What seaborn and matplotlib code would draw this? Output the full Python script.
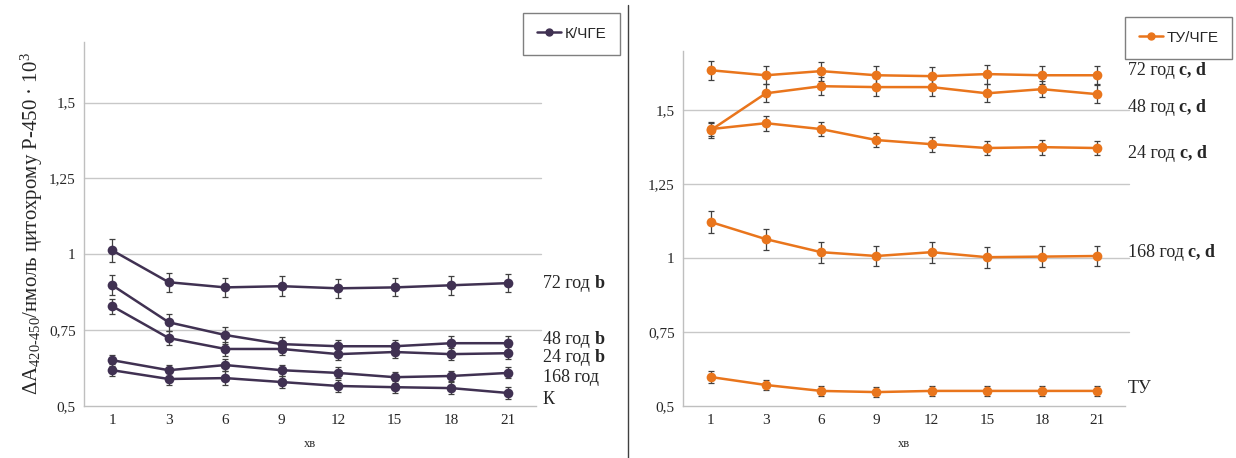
import numpy as np
import pandas as pd
import matplotlib
matplotlib.use("Agg")
import matplotlib.pyplot as plt
from matplotlib.lines import Line2D
import seaborn as sns

# minutes of incubation (categorical x axis)
minutes = ["1", "3", "6", "9", "12", "15", "18", "21"]

# left panel: К/ЧГЕ
k_72 = [1.013, 0.908, 0.891, 0.895, 0.888, 0.891, 0.898, 0.905]
k_48 = [0.898, 0.776, 0.734, 0.704, 0.697, 0.697, 0.707, 0.707]
k_24 = [0.829, 0.724, 0.688, 0.688, 0.671, 0.678, 0.671, 0.674]
k_168 = [0.651, 0.618, 0.635, 0.618, 0.609, 0.595, 0.599, 0.609]
k_ctrl = [0.618, 0.589, 0.592, 0.579, 0.566, 0.562, 0.559, 0.543]
k_err_72 = [0.038, 0.032, 0.032, 0.032, 0.032, 0.030, 0.032, 0.030]
k_err_48 = [0.033, 0.028, 0.028, 0.025, 0.022, 0.022, 0.025, 0.025]
k_err_24 = [0.025, 0.022, 0.022, 0.020, 0.020, 0.020, 0.020, 0.020]
k_err_168 = [0.018, 0.018, 0.020, 0.018, 0.018, 0.018, 0.018, 0.018]
k_err_ctrl = [0.020, 0.020, 0.022, 0.020, 0.020, 0.020, 0.020, 0.020]

# right panel: ТУ/ЧГЕ
t_72 = [1.635, 1.618, 1.632, 1.618, 1.615, 1.622, 1.618, 1.618]
t_48 = [1.432, 1.557, 1.581, 1.578, 1.578, 1.557, 1.571, 1.554]
t_24 = [1.436, 1.456, 1.436, 1.399, 1.385, 1.372, 1.375, 1.372]
t_168 = [1.122, 1.064, 1.020, 1.007, 1.020, 1.003, 1.005, 1.007]
t_tu = [0.598, 0.571, 0.551, 0.547, 0.551, 0.551, 0.551, 0.551]
t_err_72 = [0.032, 0.030, 0.032, 0.030, 0.030, 0.032, 0.030, 0.030]
t_err_48 = [0.025, 0.030, 0.030, 0.030, 0.030, 0.030, 0.028, 0.030]
t_err_24 = [0.025, 0.025, 0.025, 0.025, 0.025, 0.025, 0.025, 0.025]
t_err_168 = [0.038, 0.035, 0.035, 0.035, 0.035, 0.035, 0.035, 0.035]
t_err_tu = [0.020, 0.018, 0.018, 0.018, 0.018, 0.018, 0.018, 0.018]

left_labels = [("72 год ", "b", k_72[-1]), ("48 год ", "b", 0.72),
               ("24 год ", "b", 0.66), ("168 год", "", 0.593), ("К", "", 0.52)]
right_labels = [("72 год ", "c, d", 1.635), ("48 год ", "c, d", 1.51),
                ("24 год ", "c, d", 1.355), ("168 год ", "c, d", 1.02), ("ТУ", "", 0.56)]

PURPLE = "#403152"
ORANGE = "#E9751C"
GRID = "#c8c8c8"

sns.set_theme(style="white")
plt.rcParams["font.family"] = ["Liberation Serif", "DejaVu Serif"]
plt.rcParams["mathtext.default"] = "regular"

fig = plt.figure(figsize=(12.36, 4.58), dpi=100)
ax_l = fig.add_axes([84 / 1236, 1 - 406 / 458, 452 / 1236, 364 / 458])
ax_r = fig.add_axes([683 / 1236, 1 - 406 / 458, 442 / 1236, 355 / 458])

pos = np.arange(len(minutes))


def draw_panel(ax, series, errors, color):
    rows = []
    for name, vals in series.items():
        for p, v in zip(pos, vals):
            rows.append({"pos": p, "value": v, "group": name})
    df = pd.DataFrame(rows)
    for name, err in errors.items():
        ax.errorbar(pos, series[name], yerr=err, fmt="none", ecolor="#404040",
                    elinewidth=0.9, capsize=2.5, capthick=0.9, zorder=3)
    sns.lineplot(data=df, x="pos", y="value", units="group", estimator=None,
                 color=color, linewidth=1.8, marker="o", markersize=7,
                 markeredgewidth=0, ax=ax, zorder=4)
    ax.set_xlim(-0.5, len(minutes) - 0.5)
    ax.set_ylim(0.5, 1.7)
    ax.set_yticks([0.5, 0.75, 1.0, 1.25, 1.5])
    ax.set_yticklabels(["0,5", "0,75", "1", "1,25", "1,5"], fontsize=11)
    ax.set_xticks(pos)
    ax.set_xticklabels(minutes, fontsize=11)
    ax.tick_params(axis="both", length=0, pad=6)
    for y in [0.75, 1.0, 1.25, 1.5]:
        ax.axhline(y, color=GRID, linewidth=1, zorder=1, clip_on=False,
                   xmax=1.01)
    for s in ["top", "right"]:
        ax.spines[s].set_visible(False)
    for s in ["left", "bottom"]:
        ax.spines[s].set_color("#bfbfbf")
        ax.spines[s].set_linewidth(1)
    ax.set_xlabel("хв", fontsize=9, labelpad=8)
    ax.set_ylabel("")


draw_panel(ax_l, {"72": k_72, "48": k_48, "24": k_24, "168": k_168, "K": k_ctrl},
           {"72": k_err_72, "48": k_err_48, "24": k_err_24, "168": k_err_168,
            "K": k_err_ctrl}, PURPLE)
draw_panel(ax_r, {"72": t_72, "48": t_48, "24": t_24, "168": t_168, "TU": t_tu},
           {"72": t_err_72, "48": t_err_48, "24": t_err_24, "168": t_err_168,
            "TU": t_err_tu}, ORANGE)

ax_l.set_ylabel("ΔA$_{420\u2010450}$/нмоль цитохрому Р-450 · 10$^3$", fontsize=15,
                labelpad=3)


def side_labels(ax, labels, x_px):
    for plain, bold, y in labels:
        xf = x_px / 1236
        yd = ax.transData.transform((0, y))[1]
        yf = fig.transFigure.inverted().transform((0, yd))[1]
        t = fig.text(xf, yf, plain, fontsize=13, va="center", ha="left")
        if bold:
            fig.canvas.draw()
            bb = t.get_window_extent()
            fig.text(bb.x1 / 1236, yf, bold, fontsize=13, fontweight="bold",
                     va="center", ha="left")


side_labels(ax_l, left_labels, 543)
side_labels(ax_r, right_labels, 1128)


def legend_box(ax, label, color, anchor):
    handle = Line2D([0], [0], color=color, linewidth=1.8, marker="o",
                    markersize=5)
    leg = ax.legend(handles=[handle], labels=[label], loc="upper right",
                    bbox_to_anchor=anchor, bbox_transform=fig.transFigure,
                    fancybox=False, framealpha=1, edgecolor="#7f7f7f",
                    handlelength=1.6, handletextpad=0.2, borderpad=0.9,
                    borderaxespad=0,
                    prop={"family": ["Liberation Sans", "DejaVu Sans"], "size": 11})
    leg.get_frame().set_linewidth(1)


legend_box(ax_l, "К/ЧГЕ", PURPLE, (620 / 1236, 1 - 13 / 458))
legend_box(ax_r, "ТУ/ЧГЕ", ORANGE, (1232 / 1236, 1 - 17 / 458))

# divider between the two panels
fig.add_artist(Line2D([628 / 1236, 628 / 1236], [0, 1 - 5 / 458],
                      color="#404040", linewidth=1, transform=fig.transFigure))

fig.savefig("out.png", dpi=100)
